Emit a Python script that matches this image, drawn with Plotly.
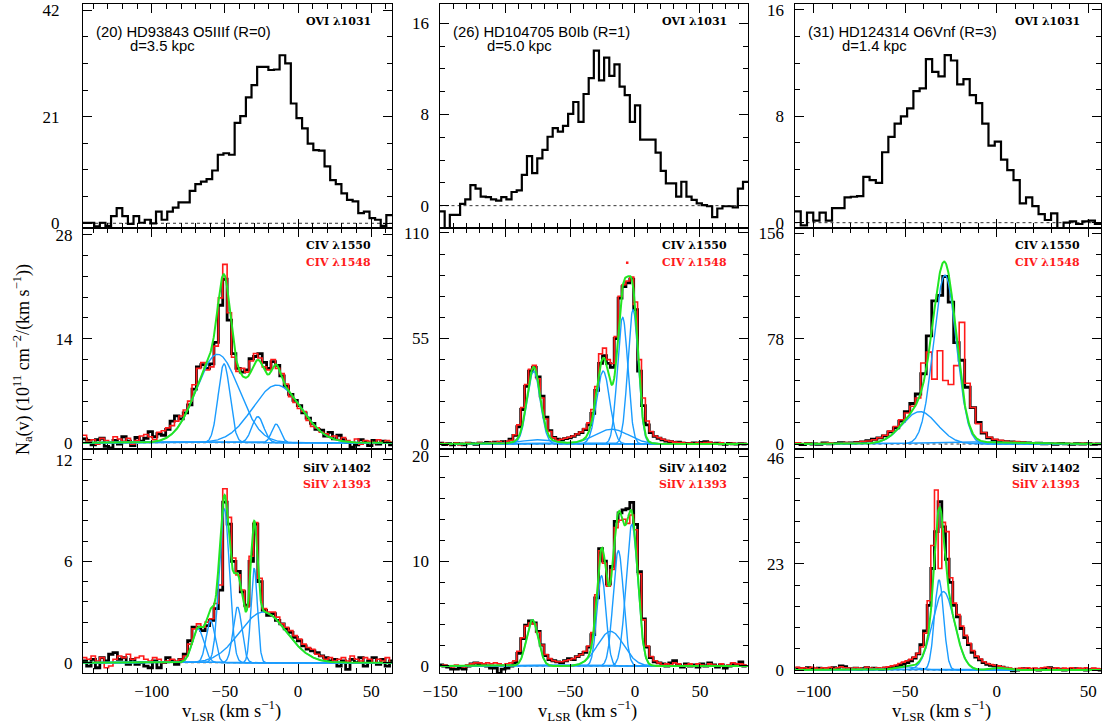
import numpy as np
import plotly.graph_objects as go

W, H = 1102, 726

# ---------------- labels ----------------
star_names = ["(20) HD93843 O5IIIf (R=0)", "(26) HD104705 B0Ib (R=1)", "(31) HD124314 O6Vnf (R=3)"]
star_dist = ["d=3.5 kpc", "d=5.0 kpc", "d=1.4 kpc"]
row_label_black = ["OVI λ1031", "CIV λ1550", "SiIV λ1402"]
row_label_red = [None, "CIV λ1548", "SiIV λ1393"]
x_title = "v<sub>LSR</sub> (km s<sup>−1</sup>)"
y_title = "N<sub>a</sub>(v) (10<sup>11</sup> cm<sup>−2</sup>/(km s<sup>−1</sup>))"

# ---------------- axis ranges / ticks (per column, per panel) ----------------
x_ranges = [[-147, 64.2], [-150.5, 87], [-110.5, 57]]
y_ranges = [[-0.93, 43.2], [-1.96, 17.7], [-0.4, 16.45],
            [-0.85, 28.9], [-2.6, 112.6], [-3.7, 159.9],
            [-0.61, 12.65], [-0.67, 20.7], [-0.65, 47.9]]
y_major = [21, 8, 8, 14, 55, 78, 6, 10, 23]
y_minor = [5.25, 2, 2, 2.8, 11, 15.6, 1.2, 2, 4.6]

# ---------------- OVI 1031 (row 1) ----------------
ovi_start = [-145.1, -148.5, -108.8]
ovi_step = [3.84, 3.96, 3.42]
ovi_hd93843 = [0.1, 0.1, -0.6, 0.1, -0.5, 1.4, 3.0, 1.4, -0.1, 1.4, 0.1, 0.7, 0.0, 2.3, 0.7, 2.3, 3.1, 4.1,
               4.1, 6.4, 7.7, 8.2, 8.7, 10.4, 13.5, 13.8, 13.5, 19.8, 21.1, 24.8, 27.2, 30.8, 30.8, 30.2,
               30.3, 33.1, 31.5, 23.6, 20.7, 18.7, 15.7, 14.4, 14.3, 11.2, 8.5, 7.7, 5.9, 4.6, 4.3, 2.0,
               2.3, 1.0, 0.7, -0.5, 1.6]
ovi_hd104705 = [-0.5, -2.0, -0.8, -0.8, 0.15, 0.55, 1.8, 1.5, 0.8, 0.75, 0.55, 0.45, 0.75, 0.55, 1.2, 1.35,
                2.7, 4.35, 2.85, 4.15, 4.9, 6.05, 6.8, 6.5, 7.0, 8.05, 9.1, 7.35, 9.8, 11.2, 13.6, 11.0,
                13.0, 11.4, 12.4, 10.45, 9.7, 7.35, 8.8, 5.8, 5.8, 5.8, 4.65, 3.05, 1.95, 1.95, 0.8, 2.1,
                0.8, 0.5, 0.2, 0.05, -0.05, -1.0, -0.25, -0.05, -0.05, -0.15, 1.5, 2.1]
ovi_hd124314 = [0.85, -0.2, 0.75, 0.15, 0.75, 0.15, 1.1, 1.1, 1.9, 1.95, 2.0, 3.45, 3.2, 3.0, 5.3, 6.45,
                7.45, 8.0, 8.6, 9.9, 10.1, 12.3, 11.35, 11.0, 12.6, 12.2, 10.4, 10.8, 9.6, 9.0, 7.45, 5.8,
                6.1, 4.75, 3.95, 3.2, 1.45, 1.9, 1.25, 0.65, 0.2, 0.7, -0.5, 0.0, 0.1, -0.1, 0.1, 0.15, -0.1]

# ---------------- CIV (row 2): black = 1550, red = 1548 ----------------
civ_start = [-146, -149.5, -109]
civ_step = [3, 3, 3]
civ_hd93843_1550 = [0.5, 0.3, -0.3, 0.4, 0.6, -0.5, -0.7, 0.3, -0.2, 0.8, 0.2, -0.4, 0.7, 0.2, 0.6, 1.5,
                    0.8, 1.2, 1.0, 1.8, 2.9, 3.6, 3.2, 4.0, 5.1, 7.2, 10.2, 10.5, 10.0, 10.6, 13.5, 18.5,
                    22.0, 16.5, 12.0, 10.0, 9.5, 9.8, 11.3, 11.6, 12.0, 10.8, 10.0, 10.9, 10.4, 9.0, 7.6,
                    6.5, 5.7, 5.0, 4.0, 3.3, 2.6, 1.8, 1.7, 0.9, 1.4, 0.5, 1.0, 0.4, 0.0, -0.6, -0.3, 0.4,
                    0.1, -0.4, 0.3, -0.2, 0.2, 0.0, -0.3]
civ_hd93843_1548 = [1.0, 0.2, 0.4, -0.2, 0.6, 0.3, 0.1, 0.8, 0.5, 0.2, 0.6, -0.2, 0.3, 0.9, 1.1, 0.8, 0.4,
                    1.4, 1.6, 2.0, 2.3, 2.9, 3.6, 4.4, 5.6, 7.8, 10.0, 10.8, 9.8, 10.2, 13.0, 19.5, 24.0,
                    17.5, 11.5, 9.6, 10.0, 9.5, 11.0, 12.0, 11.4, 10.2, 9.8, 11.2, 10.0, 9.3, 7.9, 6.2, 5.4,
                    4.6, 4.2, 3.0, 2.2, 2.0, 1.4, 1.2, 0.8, 0.9, 0.4, 0.7, 0.3, 0.0, 0.5, -0.2, 0.3, 0.2,
                    -0.1, 0.4, 0.0, 0.3, 0.1]
civ_hd104705_1550 = [0.5, -0.3, 0.2, -0.5, 0.3, 0.0, -0.4, 0.4, 0.2, -0.2, 0.5, 0.3, 0.8, 0.4, 1.0, 0.6,
                     1.2, 1.0, 2.5, 4.5, 9, 18, 30, 38, 40, 35, 25, 14, 7, 3.5, 2.5, 2.2, 2.8, 3.2, 4.0,
                     5.0, 6.0, 7.5, 10, 16, 28, 42, 46, 42, 40, 55, 76, 82, 84, 86, 70, 38, 20, 10, 6, 4,
                     3, 2.2, 1.5, 1.2, 0.8, 1.0, 0.5, 0.3, 0.2, 0.6, 0.4, 0.9, 1.2, 0.6, 0.2, 0.5, 0.1,
                     -0.2, 0.3, 0.1, -0.1, 0.2, 0.0]
civ_hd104705_1548 = [0.2, 0.4, -0.2, 0.1, 0.5, -0.3, 0.2, 0.6, 0.0, 0.3, 0.8, 0.1, 0.5, 0.9, 0.7, 1.3,
                     0.8, 1.4, 2.0, 4.8, 10, 19, 31, 39, 41, 34, 24, 13, 6.5, 3.2, 2.0, 2.5, 3.0, 3.5, 4.2,
                     5.2, 6.3, 8.0, 11, 18, 30, 47, 50, 44, 42, 56, 77, 83, 85, 87, 74, 44, 24, 12, 6.5,
                     4.2, 3.3, 2.5, 1.8, 1.4, 1.0, 0.8, 0.7, 0.4, 0.5, 0.3, 0.6, 0.5, 0.8, 0.9, 0.4, 0.3,
                     0.6, 0.1, 0.2, 0.4, 0.0, 0.3, 0.2]
civ_hd104705_1548_isolated_v = [-6.0, -1.0]
civ_hd104705_1548_isolated_n = [94.5, 73.0]
civ_hd124314_1550 = [0.5, -0.5, 0.3, 0.0, -0.3, 0.8, 0.2, 0.5, 1.0, 0.6, 0.8, 1.2, 1.5, 2.5, 3.5, 4.5, 6.0,
                     9.0, 12, 17, 24, 30, 37, 52, 80, 106, 110, 124, 105, 75, 62, 42, 27, 16, 8, 4.5, 2.8,
                     2.2, 1.8, 1.5, 1.2, 1.0, 0.9, 0.5, 0.6, 0.2, 0.3, -0.2, 0.4, 0.1, -0.3, 0.2, 0.0,
                     0.3, -0.2, 0.1]
civ_hd124314_1548 = [0.8, 0.3, 0.6, -0.2, 0.4, 0.5, 0.9, 0.3, 0.6, 1.1, 0.7, 1.3, 1.8, 2.2, 3.2, 4.6, 6.5,
                     9.5, 13, 18, 23, 28, 34, 60, 68, 48, 69, 47, 44, 58, 90, 45, 27, 15, 8.5, 5, 3.5,
                     2.8, 2.0, 1.4, 1.8, 1.2, 0.8, 0.9, 0.4, 0.6, 0.2, 0.5, 0.3, -0.1, 0.4, 0.2, 0.5,
                     0.1, 0.3, 0.2]

# ---------------- SiIV (row 3): black = 1402, red = 1393 ----------------
siiv_start = [-146, -149.5, -109]
siiv_step = [3, 3, 2]
siiv_hd93843_1402 = [0.1, -0.2, 0.2, -0.3, 0.3, 0.1, 0.5, 0.6, 0.2, 0.3, -0.1, 0.2, -0.1, 0.0, -0.2, -0.3,
                     0.1, -0.3, 0.0, 0.3, 0.1, -0.1, 0.2, 0.5, 1.3, 2.1, 2.1, 1.9, 2.2, 2.5, 3.2, 4.3,
                     9.5, 8.2, 6.0, 5.4, 4.2, 3.4, 6.0, 8.2, 4.8, 3.1, 2.8, 2.9, 2.5, 2.3, 2.0, 1.8, 1.5,
                     1.3, 1.0, 0.8, 0.7, 0.6, 0.4, 0.3, 0.1, 0.2, -0.2, 0.1, -0.4, 0.2, 0.0, 0.3, -0.2,
                     0.1, 0.3, -0.1, 0.2, -0.2, 0.1]
siiv_hd93843_1393 = [0.3, 0.2, 0.4, 0.1, 0.3, -0.3, -0.2, 0.2, 0.4, 0.3, 0.5, 0.2, 0.3, 0.4, 0.2, 0.1,
                     0.3, 0.2, 0.0, 0.1, 0.2, 0.1, 0.2, 0.4, 1.1, 2.0, 2.3, 2.1, 2.4, 2.6, 3.5, 4.6, 10.3,
                     8.6, 6.2, 5.2, 4.3, 3.3, 6.3, 8.3, 5.0, 3.2, 3.0, 3.0, 2.7, 2.3, 2.1, 1.9, 1.6, 1.4,
                     1.1, 0.9, 0.8, 0.5, 0.4, 0.2, 0.3, 0.1, 0.2, 0.3, 0.1, 0.4, 0.2, 0.1, 0.3, 0.2, 0.0,
                     0.2, 0.1, 0.3, 0.0]
siiv_hd104705_1402 = [0.1, 0.0, -0.1, -0.3, -0.3, -0.2, -0.3, 0.0, 0.2, 0.3, 0.2, 0.1, 0.0, -0.2, -0.2,
                      -0.7, -0.3, -0.2, 0.0, 0.3, 1.2, 2.6, 3.9, 4.3, 4.1, 3.3, 2.0, 1.0, 0.6, 0.5, 0.4,
                      0.3, 0.5, 0.7, 0.6, 0.9, 1.1, 1.3, 1.8, 3.0, 6.5, 11.2, 10.0, 7.8, 9.5, 13.8, 14.6,
                      14.9, 15.0, 15.6, 13.5, 9.0, 4.5, 1.8, 0.8, 0.4, 0.3, 0.2, 0.0, 0.3, 0.5, 0.1, -0.1,
                      0.2, 0.0, 0.1, -0.1, 0.2, 0.0, 0.3, 0.1, -0.1, 0.1, -0.2, 0.0, 0.2, 0.1, 0.4, 0.0]
siiv_hd104705_1393 = [0.0, 0.1, 0.0, -0.1, 0.1, 0.0, -0.1, 0.1, 0.2, 0.3, 0.3, 0.2, 0.3, 0.2, 0.3, 0.2,
                      0.1, 0.2, 0.3, 0.5, 1.4, 2.7, 3.8, 4.1, 4.0, 3.2, 2.0, 1.1, 0.7, 0.5, 0.4, 0.4, 0.5,
                      0.6, 0.7, 0.9, 1.1, 1.4, 1.9, 3.2, 6.8, 11.0, 9.8, 7.6, 9.2, 13.2, 13.9, 14.0, 13.6,
                      14.4, 13.0, 8.8, 4.4, 1.9, 0.9, 0.5, 0.3, 0.1, 0.2, 0.1, 0.3, 0.2, 0.0, 0.1, 0.2,
                      0.0, 0.2, 0.1, 0.0, 0.2, 0.1, 0.0, 0.2, 0.0, 0.1, 0.3, 0.2, 0.2, 0.1]
siiv_hd124314_1402 = [0.4, 0.3, 0.1, 0.5, 0.3, 0.2, 0.4, 0.1, 0.3, 0.2, 0.5, 0.3, 0.9, 0.7, 0.3, 0.2, 0.4,
                      0.1, 0.3, 0.5, 0.2, 0.4, 0.3, 0.1, 0.4, 0.5, 0.6, 0.8, 1.0, 1.3, 1.6, 2.0, 2.6, 3.5,
                      5.5, 8.5, 14, 22, 30, 36.5, 31, 24, 19, 14, 11.5, 9.0, 7.0, 5.5, 3.8, 2.8, 2.2, 1.6,
                      1.2, 1.0, 0.9, 0.8, 0.6, 0.4, 0.2, -0.2, 0.0, 0.1, 0.3, 0.2, 0.1, 0.2, 0.0, 0.2,
                      0.3, 0.5, 0.3, 0.1, 0.2, 0.0, 0.1, 0.2, 0.3, 0.1, 0.2, 0.0, 0.1, 0.2, 0.1, 0.0]
siiv_hd124314_1393 = [0.6, 0.4, 0.5, 0.3, 0.6, 0.4, 0.2, 0.5, 0.4, 0.6, 0.3, 0.5, 0.7, 0.5, 0.4, 0.3, 0.5,
                      0.4, 0.2, 0.6, 0.4, 0.3, 0.5, 0.4, 0.6, 0.7, 0.9, 1.1, 1.4, 1.7, 2.0, 2.3, 2.8, 3.6,
                      5.0, 8.0, 15, 27, 39, 22, 32, 30, 20, 14.5, 12, 9.5, 7.5, 5.8, 4.2, 3.0, 2.4, 1.8,
                      1.4, 1.2, 1.0, 0.9, 0.7, 0.5, 0.4, 0.2, 0.3, 0.4, 0.3, 0.5, 0.3, 0.4, 0.2, 0.5, 0.6,
                      0.4, 0.3, 0.5, 0.2, 0.4, 0.3, 0.5, 0.2, 0.4, 0.3, 0.5, 0.2, 0.4, 0.3, 0.2]

# ---------------- Gaussian fit components (center km/s, peak, sigma km/s) ----------------
civ_hd93843_comp_v = [-55.0, -50.6, -27.5, -14.5, -15.0]
civ_hd93843_comp_n = [11.9, 10.6, 3.5, 7.75, 2.5]
civ_hd93843_comp_s = [14.5, 4.0, 4.0, 16.5, 3.0]
civ_hd104705_comp_v = [-78.0, -75.0, -24.5, -9.5, -1.5, -18.0]
civ_hd104705_comp_n = [38.0, 2.2, 38.0, 66.0, 70.0, 7.7]
civ_hd104705_comp_s = [5.0, 13.0, 5.0, 4.0, 4.0, 13.0]
civ_hd124314_comp_v = [-28.3, -42.0, -15.0]
civ_hd124314_comp_n = [125.0, 24.0, 1.5]
civ_hd124314_comp_s = [6.2, 9.5, 25.0]
siiv_hd93843_comp_v = [-68.3, -59.8, -50.4, -41.4, -30.0, -23.9]
siiv_hd93843_comp_n = [2.0, 2.5, 9.1, 3.3, 5.6, 3.0]
siiv_hd93843_comp_s = [4.0, 3.0, 3.5, 3.0, 2.2, 16.0]
siiv_hd104705_comp_v = [-79.0, -25.8, -12.8, -2.4, -18.8]
siiv_hd104705_comp_n = [4.4, 8.6, 11.0, 13.5, 3.3]
siiv_hd104705_comp_s = [4.5, 3.5, 4.0, 4.5, 10.0]
siiv_hd124314_comp_v = [-31.5, -29.1, -49.4, -0.1]
siiv_hd124314_comp_n = [19.5, 17.0, 0.7, 0.5]
siiv_hd124314_comp_s = [2.5, 6.0, 6.0, 4.0]

# ---------------- assemble panels ----------------
panels = [
    dict(black=(ovi_start[0], ovi_step[0], ovi_hd93843)),
    dict(black=(ovi_start[1], ovi_step[1], ovi_hd104705)),
    dict(black=(ovi_start[2], ovi_step[2], ovi_hd124314)),
    dict(black=(civ_start[0], civ_step[0], civ_hd93843_1550), red=(civ_start[0], civ_step[0], civ_hd93843_1548),
         comp=(civ_hd93843_comp_v, civ_hd93843_comp_n, civ_hd93843_comp_s)),
    dict(black=(civ_start[1], civ_step[1], civ_hd104705_1550), red=(civ_start[1], civ_step[1], civ_hd104705_1548),
         comp=(civ_hd104705_comp_v, civ_hd104705_comp_n, civ_hd104705_comp_s),
         redpts=(civ_hd104705_1548_isolated_v, civ_hd104705_1548_isolated_n)),
    dict(black=(civ_start[2], civ_step[2], civ_hd124314_1550), red=(civ_start[2], civ_step[2], civ_hd124314_1548),
         comp=(civ_hd124314_comp_v, civ_hd124314_comp_n, civ_hd124314_comp_s)),
    dict(black=(siiv_start[0], siiv_step[0], siiv_hd93843_1402), red=(siiv_start[0], siiv_step[0], siiv_hd93843_1393),
         comp=(siiv_hd93843_comp_v, siiv_hd93843_comp_n, siiv_hd93843_comp_s)),
    dict(black=(siiv_start[1], siiv_step[1], siiv_hd104705_1402), red=(siiv_start[1], siiv_step[1], siiv_hd104705_1393),
         comp=(siiv_hd104705_comp_v, siiv_hd104705_comp_n, siiv_hd104705_comp_s)),
    dict(black=(siiv_start[2], siiv_step[2], siiv_hd124314_1402), red=(siiv_start[2], siiv_step[2], siiv_hd124314_1393),
         comp=(siiv_hd124314_comp_v, siiv_hd124314_comp_n, siiv_hd124314_comp_s)),
]

# ---------------- layout geometry (pixels) ----------------
col_px = [(83, 392), (439.5, 748), (794.5, 1101)]
row_px = [(4, 228), (228, 449), (449, 673)]

BLUE = "#1a9cff"
GREEN = "#22e622"
RED = "#ff1a1a"
SERIF = "Liberation Serif"
SANS = "Liberation Sans"
LABEL_SERIF = "DejaVu Serif"


def step_xy(v0, dv, vals):
    xs = [v0 + dv * i for i in range(len(vals))]
    xs = [xs[0] - dv / 2] + xs + [xs[-1] + dv / 2]
    ys = [vals[0]] + list(vals) + [vals[-1]]
    return xs, ys


fig = go.Figure()
layout_axes = {}
shapes = []

for r in range(3):
    for c in range(3):
        k = r * 3 + c + 1
        p = panels[k - 1]
        xn = "x" if k == 1 else f"x{k}"
        yn = "y" if k == 1 else f"y{k}"
        xr = x_ranges[c]
        yr = y_ranges[k - 1]

        # zero reference line (dotted)
        shapes.append(dict(type="line", xref=f"{xn} domain", yref=yn, x0=0, x1=1, y0=0, y1=0,
                           line=dict(color="#333333", width=1, dash="dot"), layer="below"))

        bx, by = step_xy(*p["black"])
        fig.add_trace(go.Scatter(x=bx, y=by, mode="lines", line=dict(color="black", width=2.8 if r else 2.2,
                                 shape="hvh"), xaxis=xn, yaxis=yn, showlegend=False, hoverinfo="skip"))
        if "red" in p:
            rx, ry = step_xy(*p["red"])
            fig.add_trace(go.Scatter(x=rx, y=ry, mode="lines", line=dict(color=RED, width=1.6, shape="hvh"),
                                     xaxis=xn, yaxis=yn, showlegend=False, hoverinfo="skip"))
        if "redpts" in p:
            fig.add_trace(go.Scatter(x=p["redpts"][0], y=p["redpts"][1], mode="markers",
                                     marker=dict(color=RED, size=2.5, symbol="square"),
                                     xaxis=xn, yaxis=yn, showlegend=False, hoverinfo="skip"))
        if "comp" in p:
            vgrid = np.linspace(xr[0], xr[1], 900)
            total = np.zeros_like(vgrid)
            for vc, amp, sig in zip(*p["comp"]):
                g = amp * np.exp(-0.5 * ((vgrid - vc) / sig) ** 2)
                total += g
                fig.add_trace(go.Scatter(x=vgrid, y=g, mode="lines", line=dict(color=BLUE, width=1.4),
                                         xaxis=xn, yaxis=yn, showlegend=False, hoverinfo="skip"))
            fig.add_trace(go.Scatter(x=vgrid, y=total, mode="lines", line=dict(color=GREEN, width=2.0),
                                     xaxis=xn, yaxis=yn, showlegend=False, hoverinfo="skip"))

        x0p, x1p = col_px[c]
        y0p, y1p = row_px[r]
        common = dict(showline=True, linecolor="black", linewidth=1.3, mirror="allticks", ticks="inside",
                      tickcolor="black", tickwidth=1.2, showgrid=False, zeroline=False, automargin=False,
                      tickfont=dict(family=SERIF, size=17, color="black"))
        layout_axes["xaxis" if k == 1 else f"xaxis{k}"] = dict(
            common, domain=[x0p / W, x1p / W], range=xr, anchor=yn, tickmode="linear", tick0=0, dtick=50,
            ticklen=9, showticklabels=(r == 2), ticklabelstandoff=2,
            minor=dict(ticks="inside", ticklen=5, tickwidth=1, tickcolor="black", dtick=10, tick0=0, showgrid=False))
        layout_axes["yaxis" if k == 1 else f"yaxis{k}"] = dict(
            common, domain=[1 - y1p / H, 1 - y0p / H], range=yr, anchor=xn, tickmode="linear", tick0=0,
            dtick=y_major[k - 1], ticklen=9, ticklabelstandoff=(19 if k == 1 else 6),
            minor=dict(ticks="inside", ticklen=5, tickwidth=1, tickcolor="black", dtick=y_minor[k - 1], tick0=0,
                       showgrid=False))

annotations = []


def ann(text, px, py, xanchor="left", size=13, color="black", family=SANS, angle=0):
    annotations.append(dict(text=text, x=px / W, y=1 - py / H, xref="paper", yref="paper", xanchor=xanchor,
                            yanchor="middle", showarrow=False, textangle=angle,
                            font=dict(family=family, size=size, color=color)))


for c in range(3):
    x0p, x1p = col_px[c]
    ann(star_names[c], x0p + 11, 32, size=14.8)
    ann(star_dist[c], x0p + 45, 46, size=14.8)
    ann("<b>" + row_label_black[0] + "</b>", x1p - 19, 22, xanchor="right", size=11, family=LABEL_SERIF)
    ann("<b>" + row_label_black[1] + "</b>", x1p - 19, 245, xanchor="right", size=11, family=LABEL_SERIF)
    ann("<b>" + row_label_red[1] + "</b>", x1p - 19, 262, xanchor="right", size=11, family=LABEL_SERIF, color=RED)
    ann("<b>" + row_label_black[2] + "</b>", x1p - 19, 468, xanchor="right", size=11, family=LABEL_SERIF)
    ann("<b>" + row_label_red[2] + "</b>", x1p - 19, 484, xanchor="right", size=11, family=LABEL_SERIF, color=RED)
    ann(x_title, (x0p + x1p) / 2 - 6, 710, xanchor="center", size=18.5, family=SERIF)

ann(y_title, 22, 360, xanchor="center", size=18, family=SERIF, angle=-90)

fig.update_layout(template="none", width=W, height=H, margin=dict(l=0, r=0, t=0, b=0, pad=0),
                  paper_bgcolor="white", plot_bgcolor="white", shapes=shapes, annotations=annotations,
                  **layout_axes)
fig.write_html("out.html", config={"displayModeBar": False},
               post_script="document.body.style.margin='0px';document.body.style.overflow='hidden';")
